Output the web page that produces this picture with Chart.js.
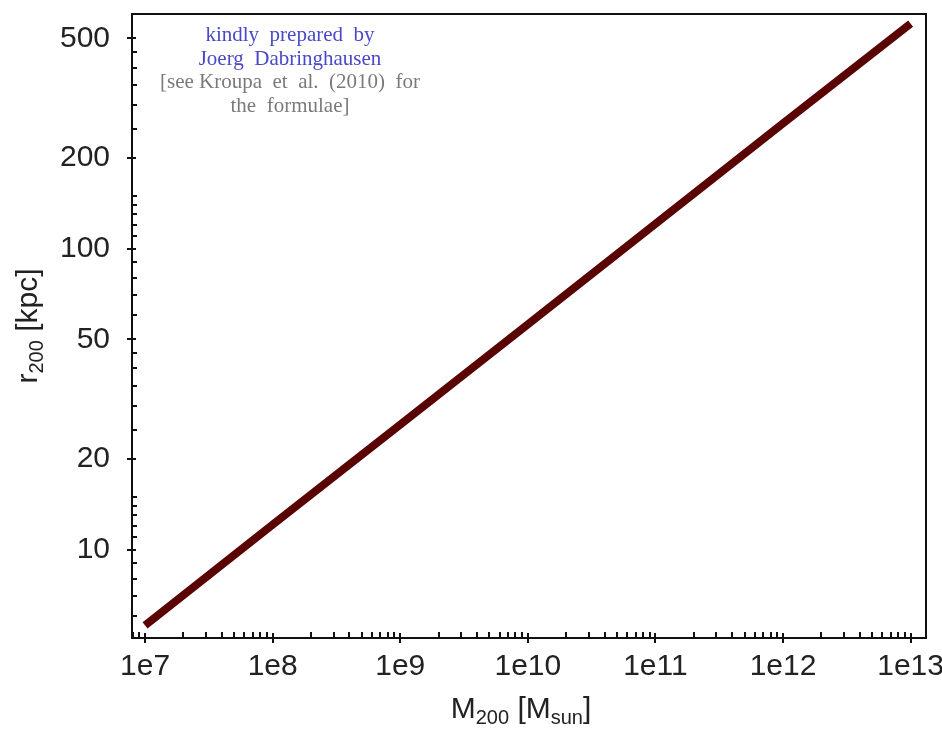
<!DOCTYPE html>
<html>
<head>
<meta charset="utf-8">
<script src="https://cdn.jsdelivr.net/npm/chart.js@4.4.0/dist/chart.umd.min.js"></script>
<style>
  body { margin: 0; background: #fff; }
  #wrap { width: 942px; height: 729px; position: relative; }
</style>
</head>
<body>
<div id="wrap"><canvas id="r200-chart"></canvas></div>
<script>
// halo mass vs virial radius at each decade
const masses = [1e7, 1e8, 1e9, 1e10, 1e11, 1e12, 1e13];
const radii = [5.6, 12.1, 26, 56, 121, 261, 560];

const xTicks = [8e6, 9e6,
  1e7, 2e7, 3e7, 4e7, 5e7, 6e7, 7e7, 8e7, 9e7,
  1e8, 2e8, 3e8, 4e8, 5e8, 6e8, 7e8, 8e8, 9e8,
  1e9, 2e9, 3e9, 4e9, 5e9, 6e9, 7e9, 8e9, 9e9,
  1e10, 2e10, 3e10, 4e10, 5e10, 6e10, 7e10, 8e10, 9e10,
  1e11, 2e11, 3e11, 4e11, 5e11, 6e11, 7e11, 8e11, 9e11,
  1e12, 2e12, 3e12, 4e12, 5e12, 6e12, 7e12, 8e12, 9e12,
  1e13];
const xLabels = [1e7, 1e8, 1e9, 1e10, 1e11, 1e12, 1e13];

const yTicks = [6, 7, 8, 9, 10, 11, 12, 13, 14, 15, 20, 25, 30, 35, 40, 45,
  50, 60, 70, 80, 90, 100, 110, 120, 130, 140, 150, 200, 250, 300, 350, 400, 450, 500];
const yLabels = [10, 20, 50, 100, 200, 500];

const note = [
  {text: "kindly  prepared  by", color: "#4848c8"},
  {text: "Joerg  Dabringhausen", color: "#4848c8"},
  {text: "[see Kroupa  et  al.  (2010)  for", color: "#7a7a7a"},
  {text: "the  formulae]", color: "#7a7a7a"}
];

const tickFont = {family: "'Liberation Sans', Arial, sans-serif", size: 30};

// frame, tick marks, axis titles with subscripts, note
const decorations = {
  id: "decorations",
  afterDraw(chart) {
    const ctx = chart.ctx;
    const a = chart.chartArea;
    const xs = chart.scales.x, ys = chart.scales.y;
    ctx.save();
    ctx.strokeStyle = "#111";
    ctx.lineWidth = 2;
    ctx.strokeRect(a.left, a.top, a.right - a.left, a.bottom - a.top);

    ctx.beginPath();
    xTicks.forEach(v => {
      const px = Math.round(xs.getPixelForValue(v));
      if (px < a.left || px > a.right) return;
      if (xLabels.includes(v)) {
        ctx.moveTo(px, a.bottom + 5); ctx.lineTo(px, a.bottom - 5);
      } else {
        ctx.moveTo(px, a.bottom); ctx.lineTo(px, a.bottom - 6);
      }
    });
    yTicks.forEach(v => {
      const py = Math.round(ys.getPixelForValue(v));
      if (yLabels.includes(v)) {
        ctx.moveTo(a.left - 5, py); ctx.lineTo(a.left + 4, py);
      } else {
        ctx.moveTo(a.left, py); ctx.lineTo(a.left + 5, py);
      }
    });
    ctx.stroke();

    ctx.fillStyle = "#222";
    // x title: M200 [Msun]
    const big = "30px 'Liberation Sans', Arial, sans-serif";
    const small = "20px 'Liberation Sans', Arial, sans-serif";
    const xParts = [["M", big, 0], ["200", small, 6], [" [M", big, 0], ["sun", small, 6], ["]", big, 0]];
    drawParts(ctx, xParts, 521, 718, 0);
    // y title: r200 [kpc]
    const yParts = [["r", big, 0], ["200", small, 6], [" [kpc]", big, 0]];
    drawParts(ctx, yParts, 37, (a.top + a.bottom) / 2, -Math.PI / 2);

    ctx.font = "21px 'Liberation Serif', 'Times New Roman', serif";
    ctx.textAlign = "center";
    ctx.textBaseline = "alphabetic";
    note.forEach((n, i) => {
      ctx.fillStyle = n.color;
      ctx.fillText(n.text, 290, 41 + i * 23.5);
    });
    ctx.restore();
  }
};

function drawParts(ctx, parts, cx, cy, rot) {
  let total = 0;
  parts.forEach(p => { ctx.font = p[1]; total += ctx.measureText(p[0]).width; });
  ctx.save();
  ctx.translate(cx, cy);
  ctx.rotate(rot);
  ctx.textAlign = "left";
  ctx.textBaseline = "alphabetic";
  let x = -total / 2;
  parts.forEach(p => {
    ctx.font = p[1];
    ctx.fillText(p[0], x, p[2]);
    x += ctx.measureText(p[0]).width;
  });
  ctx.restore();
}

function noPad(axis) {
  axis.paddingTop = 0; axis.paddingBottom = 0;
  axis.paddingLeft = 0; axis.paddingRight = 0;
}

const ctx = document.getElementById("r200-chart");
new Chart(ctx, {
  type: "line",
  data: {
    datasets: [{
      data: masses.map((m, i) => ({x: m, y: radii[i]})),
      borderColor: "#5a0303",
      borderWidth: 8,
      borderCapStyle: "butt",
      pointRadius: 0,
      tension: 0,
      fill: false
    }]
  },
  options: {
    responsive: true,
    maintainAspectRatio: false,
    animation: false,
    layout: {padding: {top: 14, right: 16, left: 0, bottom: 0}},
    plugins: {legend: {display: false}, tooltip: {enabled: false}},
    scales: {
      x: {
        type: "logarithmic",
        min: 7.9e6,
        max: 1.32e13,
        afterBuildTicks: axis => { axis.ticks = xTicks.map(v => ({value: v})); },
        afterFit: axis => { axis.height = 91; noPad(axis); },
        grid: {display: false, drawTicks: false},
        border: {display: false},
        ticks: {
          autoSkip: false,
          maxRotation: 0,
          padding: 11,
          color: "#222",
          font: tickFont,
          callback: v => xLabels.includes(v) ? "1e" + Math.round(Math.log10(v)) : ""
        }
      },
      y: {
        type: "logarithmic",
        min: 5.08,
        max: 603,
        afterBuildTicks: axis => { axis.ticks = yTicks.map(v => ({value: v})); },
        afterFit: axis => { axis.width = 132; noPad(axis); },
        grid: {display: false, drawTicks: false},
        border: {display: false},
        ticks: {
          autoSkip: false,
          padding: 22,
          color: "#222",
          font: tickFont,
          callback: v => yLabels.includes(v) ? String(v) : ""
        }
      }
    }
  },
  plugins: [decorations]
});
</script>
</body>
</html>
